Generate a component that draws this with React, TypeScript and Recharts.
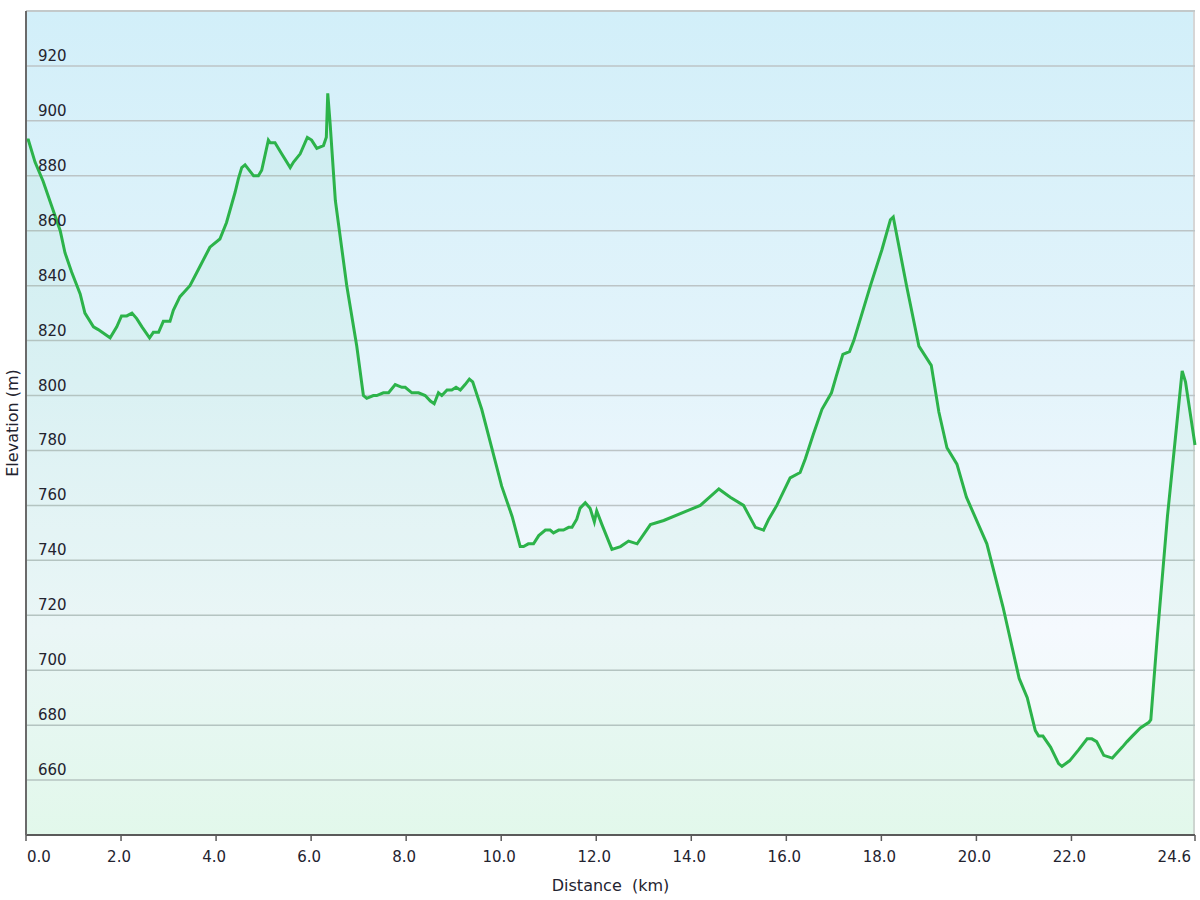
import React from "react";
import { AreaChart, Area, XAxis, YAxis, CartesianGrid, Label } from "recharts";

// distance along the track (km) and elevation (m)
const DISTANCE_KM = [
  0, 0.05, 0.19, 0.36, 0.54, 0.72, 0.82, 0.96, 1.14, 1.24, 1.42, 1.52, 1.77, 1.91, 2.01, 2.12, 2.23, 2.33,
  2.44, 2.6, 2.68, 2.79, 2.89, 3.03, 3.1, 3.24, 3.45, 3.66, 3.87, 4.08, 4.22, 4.4, 4.47, 4.54, 4.61, 4.79,
  4.89, 4.96, 5.1, 5.14, 5.24, 5.38, 5.56, 5.63, 5.77, 5.92, 6.01, 6.12, 6.26, 6.32, 6.35, 6.4, 6.51, 6.75,
  6.96, 7.1, 7.17, 7.31, 7.38, 7.52, 7.63, 7.77, 7.91, 7.98, 8.12, 8.26, 8.4, 8.51, 8.59, 8.68, 8.75, 8.86,
  8.96, 9.05, 9.14, 9.24, 9.33, 9.4, 9.59, 9.8, 10.01, 10.23, 10.4, 10.47, 10.57, 10.68, 10.79, 10.93, 11.03,
  11.1, 11.21, 11.31, 11.42, 11.49, 11.59, 11.66, 11.77, 11.87, 11.96, 12.01, 12.12, 12.33, 12.51, 12.68,
  12.86, 13.14, 13.42, 13.91, 14.19, 14.58, 14.82, 15.1, 15.35, 15.52, 15.63, 15.8, 16.08, 16.29, 16.4,
  16.57, 16.75, 16.95, 17.05, 17.19, 17.33, 17.42, 17.77, 18.01, 18.19, 18.25, 18.53, 18.79, 19.05, 19.21,
  19.38, 19.59, 19.79, 20.22, 20.56, 20.9, 21.07, 21.24, 21.31, 21.4, 21.56, 21.73, 21.8, 21.96, 22.15,
  22.33, 22.43, 22.53, 22.68, 22.86, 23.07, 23.17, 23.28, 23.45, 23.63, 23.67, 23.81, 24.02, 24.19, 24.33,
  24.4, 24.6,
];

const ELEVATION_M = [
  893, 893, 885, 878, 869, 860, 852, 845, 837, 830, 825, 824, 821, 825, 829, 829, 830, 828,
  825, 821, 823, 823, 827, 827, 831, 836, 840, 847, 854, 857, 863, 874, 879, 883, 884, 880,
  880, 882, 893, 892, 892, 888, 883, 885, 888, 894, 893, 890, 891, 894, 910, 899, 871, 840,
  818, 800, 799, 800, 800, 801, 801, 804, 803, 803, 801, 801, 800, 798, 797, 801, 800, 802,
  802, 803, 802, 804, 806, 805, 795, 781, 767, 756, 745, 745, 746, 746, 749, 751, 751,
  750, 751, 751, 752, 752, 755, 759, 761, 759, 754, 758, 753, 744, 745, 747,
  746, 753, 754.5, 758, 760, 766, 763, 760, 752, 751, 755, 760, 770, 772, 777,
  786, 795, 801, 807, 815, 816, 820, 840, 853, 864, 865, 840, 818, 811, 794,
  781, 775, 763, 746, 723, 697, 690, 678, 676, 676, 672, 666, 665, 667, 671,
  675, 675, 674, 669, 668, 672, 674, 676, 679, 681, 682, 713, 756, 785, 809,
  805, 782,
];

const X_TICKS = [0, 2, 4, 6, 8, 10, 12, 14, 16, 18, 20, 22, 24.6];
const Y_TICKS = [660, 680, 700, 720, 740, 760, 780, 800, 820, 840, 860, 880, 900, 920];

const data = DISTANCE_KM.map((km, i) => ({ km, elev: ELEVATION_M[i] }));

const FONT = "'DejaVu Sans', Verdana, sans-serif";
const TEXT = "#23232f";

const YTick = (props: any) => {
  const { y, payload } = props;
  return (
    <text x={38} y={y - 5} fill={TEXT} fontSize={15} fontFamily={FONT}>
      {payload.value}
    </text>
  );
};

const XTick = (props: any) => {
  const { x, y, payload, index } = props;
  const last = index === X_TICKS.length - 1;
  const first = index === 0;
  const anchor = first ? "start" : last ? "end" : "middle";
  const dx = first ? 1 : last ? -4 : -2;
  return (
    <text x={x + dx} y={y + 19} textAnchor={anchor} fill={TEXT} fontSize={15} fontFamily={FONT}>
      {payload.value.toFixed(1)}
    </text>
  );
};

export default function App() {
  return (
    <div style={{ position: "absolute", left: 0, top: 0, width: 1200, height: 900, background: "#fff" }}>
      <div
        style={{
          position: "absolute",
          left: 26,
          top: 10,
          width: 1169,
          height: 825,
          borderTop: "2px solid #d6d6d6",
          borderRight: "2px solid #d6d6d6",
          boxSizing: "border-box",
          background: "linear-gradient(to bottom, #d2eff9 0%, #e4f4fb 45%, #f5f9fe 75%, #ecfbf3 100%)",
        }}
      />
      <div style={{ position: "absolute", left: 0, top: 0 }}>
        <AreaChart width={1200} height={900} data={data} margin={{ top: 11, right: 5, left: 0, bottom: 0 }}>
          <CartesianGrid vertical={false} stroke="#bcc4c6" strokeWidth={1.5} />
          <XAxis
            dataKey="km"
            type="number"
            domain={[0, 24.6]}
            ticks={X_TICKS}
            interval={0}
            height={65}
            stroke="#5a5a5a"
            axisLine={{ stroke: "#5a5a5a", strokeWidth: 2 }}
            tickLine={{ stroke: "#5a5a5a", strokeWidth: 1.5 }}
            tickSize={6}
            tick={<XTick />}
          >
            <Label
              value={"Distance\u00a0\u00a0(km)"}
              position="insideBottom"
              offset={9}
              fill={TEXT}
              style={{ fontFamily: FONT, fontSize: 16 }}
            />
          </XAxis>
          <YAxis
            type="number"
            domain={[640, 940]}
            ticks={Y_TICKS}
            interval={0}
            width={26}
            axisLine={{ stroke: "#6a6a6a", strokeWidth: 2 }}
            tickLine={false}
            tick={<YTick />}
          >
            <Label
              value="Elevation (m)"
              angle={-90}
              position="insideLeft"
              offset={12}
              fill={TEXT}
              style={{ fontFamily: FONT, fontSize: 16, textAnchor: "middle" }}
            />
          </YAxis>
          <Area
            type="linear"
            dataKey="elev"
            stroke="#2cb34a"
            strokeWidth={3}
            fill="#3ccf7a"
            fillOpacity={0.06}
            dot={false}
            activeDot={false}
            isAnimationActive={false}
          />
        </AreaChart>
      </div>
    </div>
  );
}
